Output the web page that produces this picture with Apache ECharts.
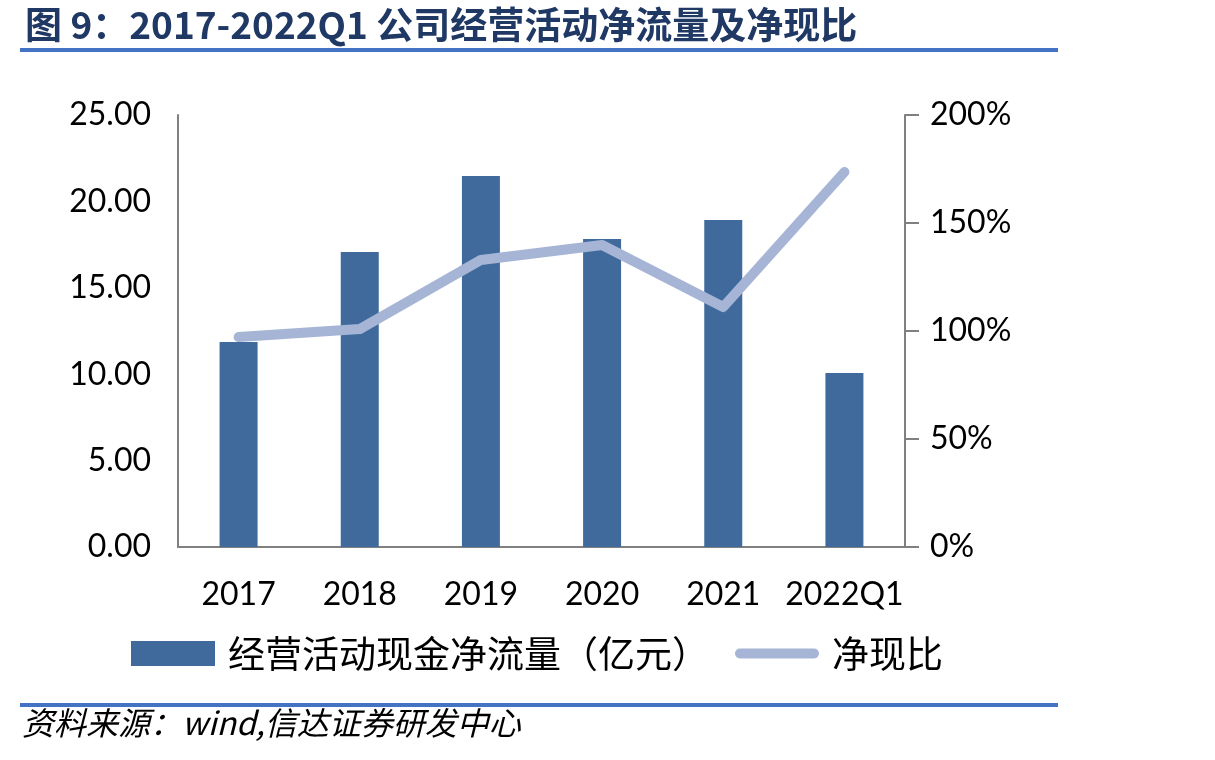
<!DOCTYPE html>
<html>
<head>
<meta charset="utf-8">
<script src="https://cdn.jsdelivr.net/npm/echarts@6/dist/echarts.min.js"></script>
<style>
  html, body { margin: 0; padding: 0; background: #fff; }
  #chart { width: 1215px; height: 760px; }
</style>
</head>
<body>
<div id="chart"></div>
<script>
  const categories = ['2017', '2018', '2019', '2020', '2021', '2022Q1'];
  // 经营活动现金净流量（亿元）
  const cashFlow = [11.86, 17.07, 21.47, 17.82, 18.92, 10.07];
  // 净现比（%）
  const cashRatio = [97.2, 100.9, 132.9, 139.8, 111.1, 173.6];

  const font = 'Lato, "Noto Sans CJK SC", sans-serif';
  const cjk = '"Noto Sans CJK SC", sans-serif';

  const chart = echarts.init(document.getElementById('chart'));
  chart.setOption({
    backgroundColor: '#fff',
    animation: false,
    title: {
      text: '图 9：2017-2022Q1 公司经营活动净流量及净现比',
      left: 20,
      top: 1,
      textStyle: { fontFamily: cjk, fontSize: 37, fontWeight: 'bold', color: '#1F3864' },
    },
    graphic: [
      { type: 'rect', shape: { x: 20, y: 48, width: 1038, height: 4 }, style: { fill: '#4472C4' } },
      { type: 'rect', shape: { x: 20, y: 703, width: 1038, height: 4 }, style: { fill: '#4472C4' } },
      {
        type: 'text',
        left: 22,
        top: 707,
        style: {
          text: '资料来源：wind,信达证券研发中心 ',
          fontFamily: cjk,
          fontSize: 32,
          fontStyle: 'italic',
          fill: '#000',
        },
      },
    ],
    legend: {
      top: 630,
      left: 126,
      itemWidth: 84,
      itemHeight: 25,
      itemGap: 26,
      textStyle: { fontFamily: cjk, fontSize: 37, color: '#000', padding: [0, 0, 0, 8] },
      data: [
        { name: '经营活动现金净流量（亿元）', icon: 'rect' },
        { name: '净现比', icon: 'path://M5,0 L81,0 A5,5 0 0 1 81,10 L5,10 A5,5 0 0 1 5,0 Z' },
      ],
    },
    grid: { left: 178, right: 310, top: 115, bottom: 213 },
    xAxis: {
      type: 'category',
      data: categories,
      axisLine: { lineStyle: { color: '#808080', width: 2 } },
      axisTick: { show: false },
      axisLabel: { interval: 0, fontFamily: font, fontSize: 32, color: '#000', margin: 32 },
    },
    yAxis: [
      {
        type: 'value',
        min: 0,
        max: 25,
        interval: 5,
        axisLine: { show: true, lineStyle: { color: '#808080', width: 2 } },
        axisTick: { show: false },
        splitLine: { show: false },
        axisLabel: {
          fontFamily: font,
          fontSize: 32,
          color: '#000',
          margin: 27,
          formatter: (v) => v.toFixed(2),
        },
      },
      {
        type: 'value',
        min: 0,
        max: 200,
        interval: 50,
        axisLine: { show: true, lineStyle: { color: '#808080', width: 2 } },
        axisTick: { show: true, length: 14, lineStyle: { color: '#808080', width: 2 } },
        splitLine: { show: false },
        axisLabel: {
          fontFamily: font,
          fontSize: 32,
          color: '#000',
          margin: 25,
          formatter: '{value}%',
        },
      },
    ],
    series: [
      {
        name: '经营活动现金净流量（亿元）',
        type: 'bar',
        barWidth: 38,
        itemStyle: { color: '#416A9C' },
        data: cashFlow,
      },
      {
        name: '净现比',
        type: 'line',
        yAxisIndex: 1,
        symbol: 'none',
        lineStyle: { color: '#A6B5D5', width: 10, cap: 'round', join: 'round' },
        itemStyle: { color: '#A6B5D5' },
        data: cashRatio,
      },
    ],
  });
</script>
</body>
</html>
